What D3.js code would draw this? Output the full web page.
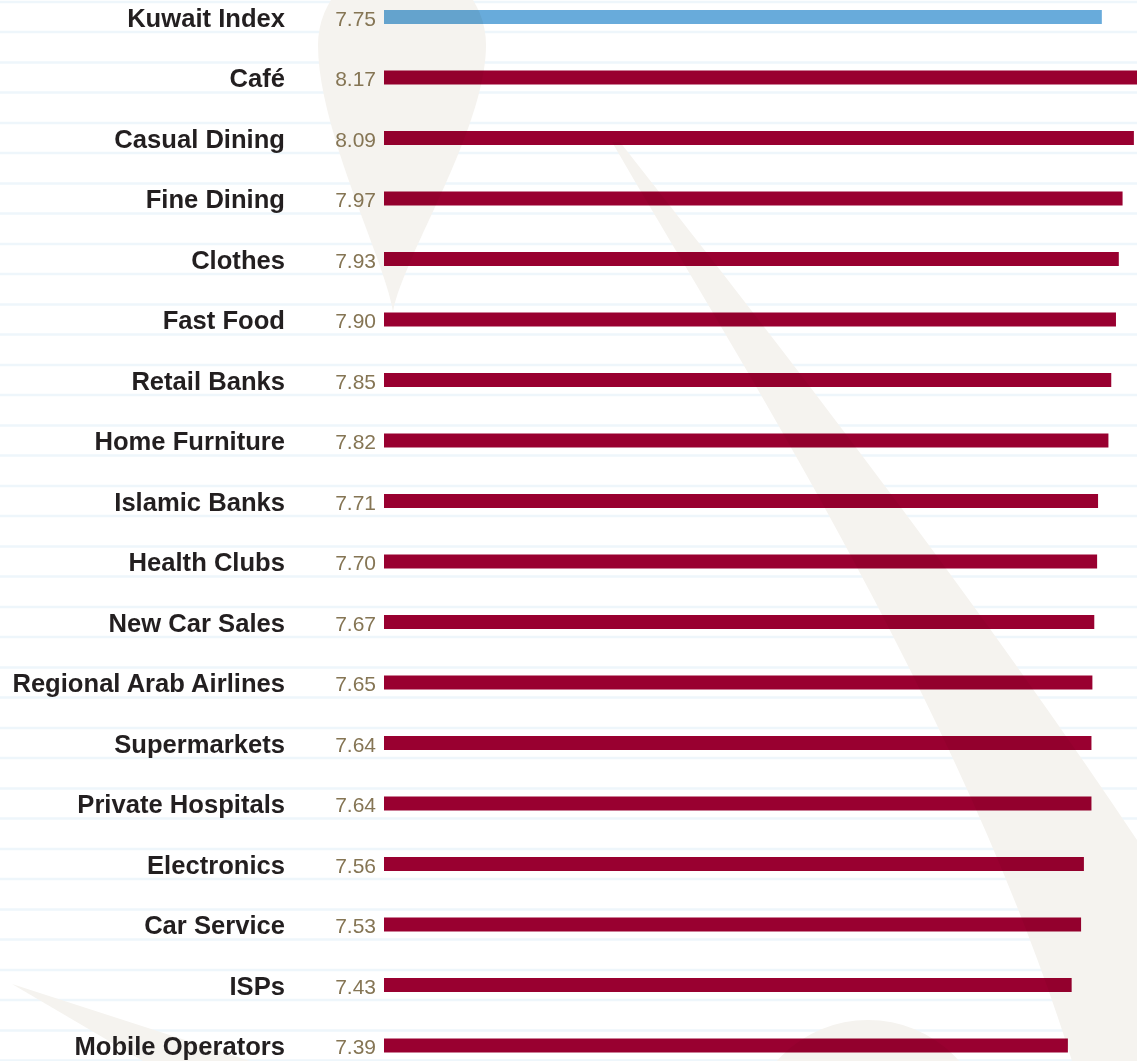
<!DOCTYPE html>
<html>
<head>
<meta charset="utf-8">
<script src="https://cdn.jsdelivr.net/npm/d3@7"></script>
<style>
  html, body { margin: 0; padding: 0; background: #ffffff; }
  svg { display: block; }
</style>
</head>
<body>
<div id="chart"></div>
<script>
// Satisfaction scores by sector
const categories = [
  "Kuwait Index", "Café", "Casual Dining", "Fine Dining", "Clothes", "Fast Food",
  "Retail Banks", "Home Furniture", "Islamic Banks", "Health Clubs", "New Car Sales",
  "Regional Arab Airlines", "Supermarkets", "Private Hospitals", "Electronics",
  "Car Service", "ISPs", "Mobile Operators"
];
const scores = [
  7.75, 8.17, 8.09, 7.97, 7.93, 7.90,
  7.85, 7.82, 7.71, 7.70, 7.67,
  7.65, 7.64, 7.64, 7.56,
  7.53, 7.43, 7.39
];
const valueLabels = [
  "7.75", "8.17", "8.09", "7.97", "7.93", "7.90",
  "7.85", "7.82", "7.71", "7.70", "7.67",
  "7.65", "7.64", "7.64", "7.56",
  "7.53", "7.43", "7.39"
];
const highlight = "Kuwait Index";

const W = 1137, H = 1061;
const data = categories.map((c, i) => ({ name: c, value: scores[i], label: valueLabels[i] }));

const svg = d3.select("#chart").append("svg")
  .attr("width", W).attr("height", H)
  .attr("viewBox", `0 0 ${W} ${H}`);

const y = d3.scaleBand().domain(categories).range([-13.25, 1075.75]);
const x = d3.scaleLinear().domain([0, 9]).range([371, 1219.7]);
const barStart = 384;
const barH = 14;
const cy = d => y(d.name) + y.bandwidth() / 2;

// Ruled guide lines above and below each row
const rules = svg.append("g");
data.forEach(d => {
  [-15, 15].forEach(off => {
    rules.append("rect")
      .attr("x", 0).attr("width", W)
      .attr("y", cy(d) + off - 1.25).attr("height", 2.5)
      .attr("fill", "#eef6fb");
  });
});

// Decorative watermark shapes
const deco = svg.append("g").attr("fill", "#f5f3ef");
// drop at the top
deco.append("path")
  .attr("d", "M393,312 C385,260 318,130 318,45 A84,84 0 0 1 486,45 C486,130 401,260 393,312 Z");
// long sweeping blade
deco.append("path")
  .attr("d", "M612,142 C720,330 960,700 1072,1061 L1160,1061 L1160,840 L1137,840 C950,560 720,270 620,142 Z");
// wedge at the lower left
deco.append("path")
  .attr("d", "M12,984 L250,1061 L143,1061 Z");
// dome at the bottom
deco.append("circle").attr("cx", 868).attr("cy", 1142).attr("r", 122);

// Bars
svg.append("g").selectAll("rect")
  .data(data).join("rect")
  .attr("x", barStart)
  .attr("y", d => cy(d) - barH / 2)
  .attr("width", d => x(d.value) - barStart)
  .attr("height", barH)
  .attr("fill", d => d.name === highlight ? "#68abdb" : "#990030")
  .style("mix-blend-mode", "multiply");

// Category names
svg.append("g").selectAll("text")
  .data(data).join("text")
  .attr("x", 285)
  .attr("y", d => cy(d) + 9.5)
  .attr("text-anchor", "end")
  .attr("font-family", "'Liberation Sans', Arial, Helvetica, sans-serif")
  .attr("font-weight", "bold")
  .attr("font-size", 25.6)
  .attr("fill", "#231f20")
  .text(d => d.name);

// Score labels
svg.append("g").selectAll("text")
  .data(data).join("text")
  .attr("x", 376)
  .attr("y", d => cy(d) + 8.5)
  .attr("text-anchor", "end")
  .attr("font-family", "'Liberation Sans', Arial, Helvetica, sans-serif")
  .attr("font-size", 21)
  .attr("fill", "#857554")
  .text(d => d.label);
</script>
</body>
</html>
